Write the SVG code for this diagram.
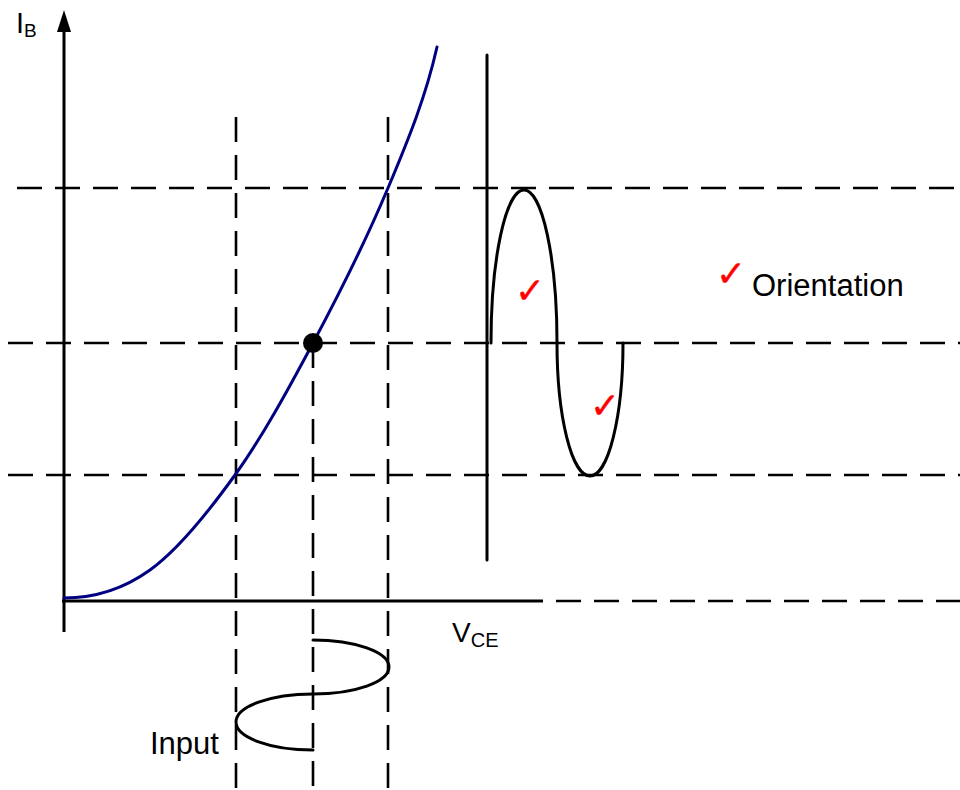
<svg xmlns="http://www.w3.org/2000/svg" width="960" height="790" viewBox="0 0 960 790">
<style>
.dash{stroke:#000;stroke-width:2.6;stroke-dasharray:25 13;fill:none}
.solid{stroke:#000;stroke-width:3;fill:none;stroke-linecap:round}
.lbl{font-family:"Liberation Sans",Arial,sans-serif;fill:#000}
.chk{font-family:"DejaVu Sans",sans-serif;fill:#ff0000;stroke:#ff0000;stroke-width:0.4;font-size:36px}
</style>
<rect width="960" height="790" fill="#fff"/>
<g id="connectors">
<line class="dash" x1="17" y1="188" x2="960" y2="188"/>
<line class="dash" x1="8" y1="343" x2="960" y2="343"/>
<line class="dash" x1="8" y1="475" x2="960" y2="475"/>
<line class="dash" x1="236" y1="117" x2="236" y2="790"/>
<line class="dash" x1="388" y1="117" x2="388" y2="790"/>
<line class="dash" x1="313" y1="343" x2="313" y2="790"/>
<line class="dash" x1="556" y1="601" x2="960" y2="601"/>
</g>
<g id="axes">
<line class="solid" x1="64" y1="30" x2="64" y2="632" style="stroke-linecap:butt"/>
<polygon points="64,10 57,32 71,32" fill="#000"/>
<line class="solid" x1="62" y1="601" x2="543" y2="601" style="stroke-linecap:butt"/>
<line class="solid" x1="487" y1="55" x2="487" y2="560"/>
</g>
<g id="curve">
<path d="M64,598 C93,598 121.5,590.5 150,570 C178.5,549.5 207.8,512.8 235,475 C262.2,437.2 287.5,390.8 313,343 C338.5,295.2 367.3,237.3 388,188 C408.7,138.7 426,96 437,47" fill="none" stroke="#000080" stroke-width="3" stroke-linecap="round"/>
</g>
<g id="q-point">
<circle cx="313" cy="343" r="10" fill="#000"/>
</g>
<g id="output-wave">
<path class="solid" d="M491,343 A33,153 0 0 1 557,343 A33,133 0 0 0 623,343"/>
</g>
<g id="input-wave">
<path class="solid" d="M313,640 A76,27 0 0 1 313,694 A77,28 0 0 0 313,750"/>
</g>
<g id="labels">
<text class="lbl" x="16" y="33" font-size="29">I<tspan font-size="19" dy="4">B</tspan></text>
<text class="lbl" x="452" y="642" font-size="28">V<tspan font-size="20" dy="5">CE</tspan></text>
<text class="lbl" x="150" y="754" font-size="31">Input</text>
<text class="lbl" x="752" y="296" font-size="31">Orientation</text>
</g>
<g id="checks">
<text class="chk" x="515" y="303">✓</text>
<text class="chk" x="590" y="418">✓</text>
<text class="chk" x="716" y="286">✓</text>
</g>
</svg>
